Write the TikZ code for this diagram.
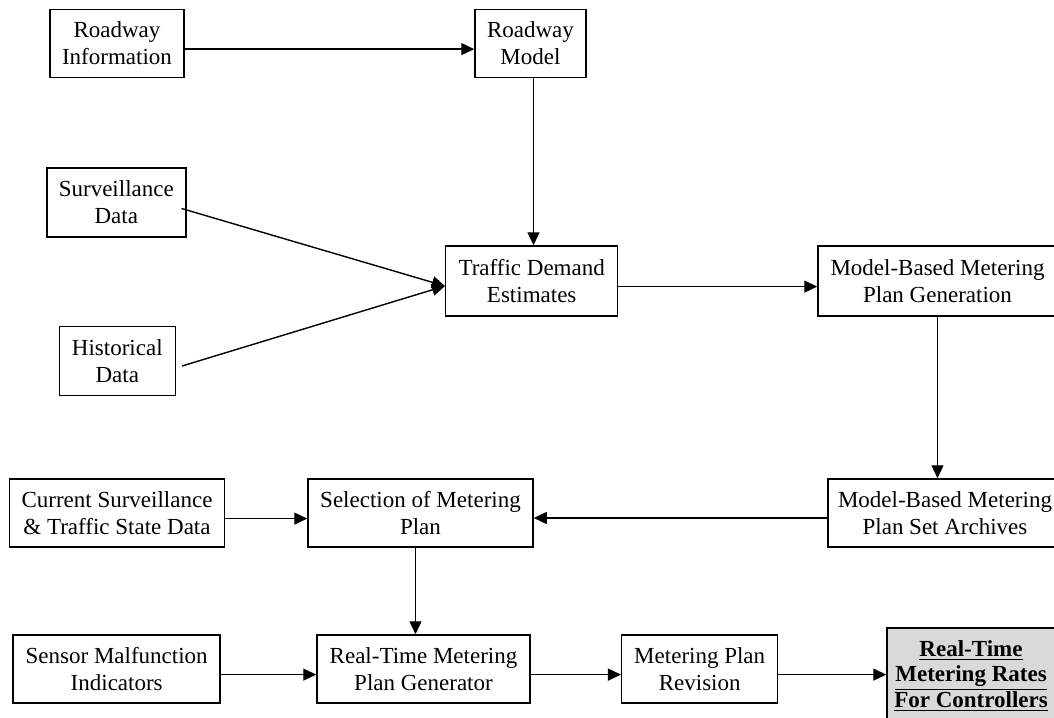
\documentclass[tikz,border=0pt]{standalone}
\usepackage{fontspec}
\setmainfont{Liberation Serif}
\usetikzlibrary{arrows.meta}
\definecolor{ratesgray}{RGB}{217,217,217}
\tikzset{
    blk/.style={draw, line width=0.75pt, align=center, inner sep=0pt,
        font=\fontsize{11.5}{13.4}\selectfont},
    arr/.style={line width=0.7pt, -{Triangle[length=6.5pt,width=6pt]}}
}
\begin{document}
\begin{tikzpicture}[x=0.5pt, y=-0.5pt]
    \useasboundingbox (0,0) rectangle (1054,717);
    \clip (0,0) rectangle (1054,717);

    \node[blk, minimum width=67pt, minimum height=34pt] (ri) at (117,43.5) {Roadway\\Information};
    \node[blk, minimum width=55.5pt, minimum height=34pt] (rm) at (530.5,43.5) {Roadway\\Model};
    \node[blk, minimum width=69.5pt, minimum height=34.5pt] (sd) at (116.3,202.5) {Surveillance\\Data};
    \node[blk, minimum width=58pt, minimum height=34.5pt] (hd) at (117.3,361) {Historical\\Data};
    \node[blk, minimum width=86pt, minimum height=35pt] (tde) at (531.7,281) {Traffic Demand\\Estimates};
    \node[blk, minimum width=119.5pt, minimum height=35pt] (mbg) at (937.5,281) {Model-Based Metering\\Plan Generation};
    \node[blk, minimum width=107.5pt, minimum height=34pt] (cs) at (117,513) {Current Surveillance\\\& Traffic State Data};
    \node[blk, minimum width=112.5pt, minimum height=34pt] (sel) at (420.5,513) {Selection of Metering\\Plan};
    \node[blk, minimum width=117pt, minimum height=34pt] (arch) at (945,513) {Model-Based Metering\\Plan Set Archives};
    \node[blk, minimum width=103.5pt, minimum height=34pt] (smi) at (116.7,669) {Sensor Malfunction\\Indicators};
    \node[blk, minimum width=106.5pt, minimum height=34pt] (rtg) at (423.5,669) {Real-Time Metering\\Plan Generator};
    \node[blk, minimum width=78pt, minimum height=34pt] (rev) at (699.7,669) {Metering Plan\\Revision};
    \node[blk, fill=ratesgray, minimum width=84pt, minimum height=48pt,
        font=\fontsize{11.5}{12.6}\selectfont\bfseries] (rates) at (971,676)
        {\underline{Real-Time}\\\underline{Metering Rates}\\\underline{For Controllers}};

    \foreach \a/\b in {ri/rm, tde/mbg, cs/sel, smi/rtg, rtg/rev, rev/rates}
        \draw[arr] ([yshift=-2.8pt]\a.east) -- ([yshift=-2.8pt]\a.east -| \b.west);
    \draw[arr] ([yshift=-2.5pt]arch.west) -- ([yshift=-2.5pt]arch.west -| sel.east);

    \draw[arr] ([xshift=1.5pt]rm.south) -- ([xshift=1.5pt]rm.south |- tde.north);
    \draw[arr] (mbg.south) -- (mbg.south |- arch.north);
    \draw[arr] ([xshift=-2.5pt]sel.south) -- ([xshift=-2.5pt]sel.south |- rtg.north);

    \draw[arr] ([xshift=-2.5pt,yshift=-3pt]sd.east) -- ([yshift=-2.5pt]tde.west);
    \draw[arr] ([xshift=3pt,yshift=-2.5pt]hd.east) -- ([yshift=-2.5pt]tde.west);
\end{tikzpicture}
\end{document}
